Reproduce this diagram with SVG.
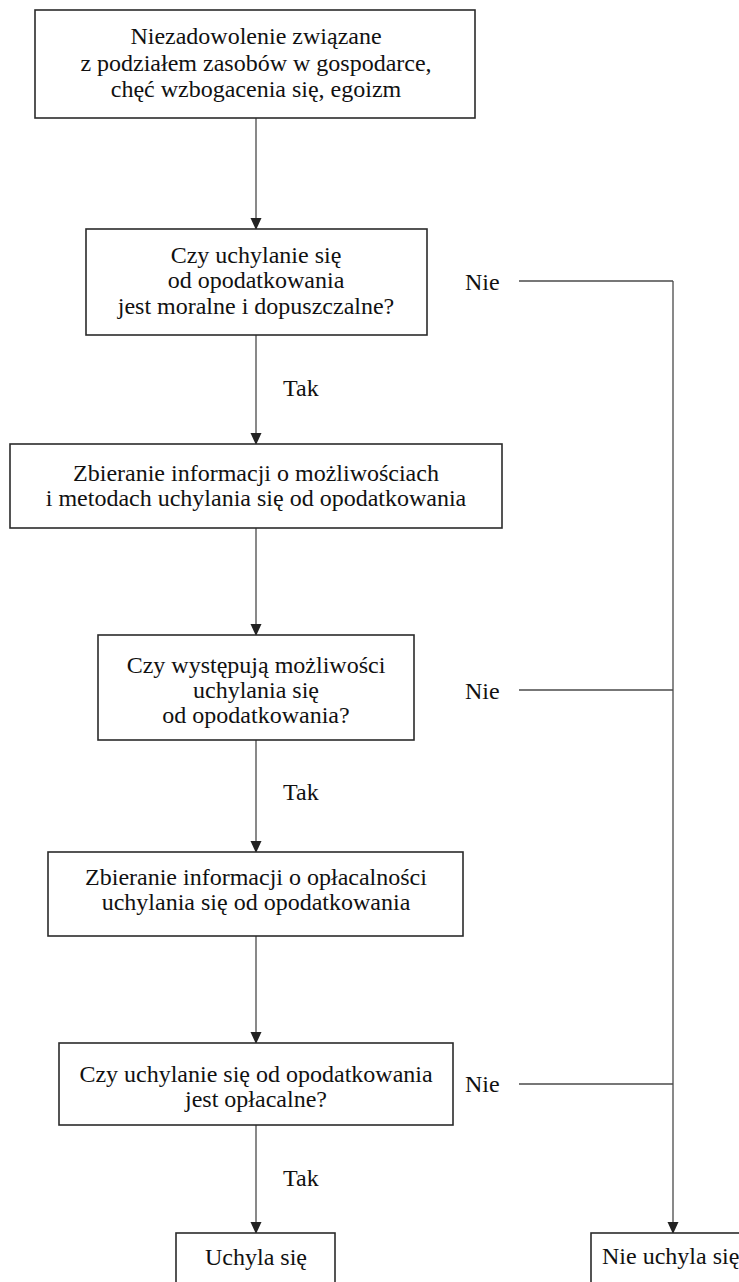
<svg xmlns="http://www.w3.org/2000/svg" width="739" height="1282" viewBox="0 0 739 1282">
  <style>
    .box { fill: #ffffff; stroke: #2b2b2b; stroke-width: 1.6; }
    .txt { font-family: "Liberation Serif", "Times New Roman", serif; font-size: 24px; fill: #111111; }
    .mid { text-anchor: middle; }
    .conn { fill: none; stroke: #4a4a4a; stroke-width: 1.3; }
  </style>
  <defs>
    <marker id="arrow" markerWidth="12" markerHeight="13" refX="12" refY="6" orient="auto" markerUnits="userSpaceOnUse" viewBox="0 0 13 12">
      <path d="M0,0 L13,6 L0,12 Z" fill="#222222"/>
    </marker>
  </defs>

  <rect width="739" height="1282" fill="#ffffff"/>

  <!-- connectors -->
  <g id="connectors">
    <line class="conn" x1="256" y1="118" x2="256" y2="229" marker-end="url(#arrow)"/>
    <line class="conn" x1="256" y1="335" x2="256" y2="444" marker-end="url(#arrow)"/>
    <line class="conn" x1="256" y1="528" x2="256" y2="635" marker-end="url(#arrow)"/>
    <line class="conn" x1="256" y1="740" x2="256" y2="852" marker-end="url(#arrow)"/>
    <line class="conn" x1="256" y1="936" x2="256" y2="1043" marker-end="url(#arrow)"/>
    <line class="conn" x1="256" y1="1125" x2="256" y2="1233" marker-end="url(#arrow)"/>
    <!-- "Nie" branches joining the right-hand trunk -->
    <line class="conn" x1="519" y1="281" x2="673" y2="281"/>
    <line class="conn" x1="519" y1="690" x2="673" y2="690"/>
    <line class="conn" x1="519" y1="1084" x2="673" y2="1084"/>
    <line class="conn" x1="673" y1="281" x2="673" y2="1233" marker-end="url(#arrow)"/>
    <text class="txt" x="465" y="290">Nie</text>
    <text class="txt" x="465" y="699">Nie</text>
    <text class="txt" x="465" y="1092">Nie</text>
    <text class="txt" x="283" y="396">Tak</text>
    <text class="txt" x="283" y="800">Tak</text>
    <text class="txt" x="283" y="1186">Tak</text>
  </g>

  <g id="start">
    <rect class="box" x="35" y="10" width="440" height="108"/>
    <text class="txt mid" x="256" y="44">Niezadowolenie związane</text>
    <text class="txt mid" x="256" y="71">z podziałem zasobów w gospodarce,</text>
    <text class="txt mid" x="256" y="97">chęć wzbogacenia się, egoizm</text>
  </g>

  <g id="q-moral">
    <rect class="box" x="86" y="229" width="341" height="106"/>
    <text class="txt mid" x="256" y="263">Czy uchylanie się</text>
    <text class="txt mid" x="256" y="288">od opodatkowania</text>
    <text class="txt mid" x="256" y="314">jest moralne i dopuszczalne?</text>
  </g>

  <g id="info-methods">
    <rect class="box" x="10" y="444" width="492" height="84"/>
    <text class="txt mid" x="256" y="481">Zbieranie informacji o możliwościach</text>
    <text class="txt mid" x="256" y="506">i metodach uchylania się od opodatkowania</text>
  </g>

  <g id="q-possible">
    <rect class="box" x="98" y="635" width="316" height="105"/>
    <text class="txt mid" x="256" y="673">Czy występują możliwości</text>
    <text class="txt mid" x="256" y="698">uchylania się</text>
    <text class="txt mid" x="256" y="723">od opodatkowania?</text>
  </g>

  <g id="info-profit">
    <rect class="box" x="48" y="852" width="415" height="84"/>
    <text class="txt mid" x="256" y="885">Zbieranie informacji o opłacalności</text>
    <text class="txt mid" x="256" y="910">uchylania się od opodatkowania</text>
  </g>

  <g id="q-profitable">
    <rect class="box" x="59" y="1043" width="394" height="82"/>
    <text class="txt mid" x="256" y="1082">Czy uchylanie się od opodatkowania</text>
    <text class="txt mid" x="256" y="1107">jest opłacalne?</text>
  </g>

  <g id="evades">
    <rect class="box" x="176" y="1233" width="159" height="60"/>
    <text class="txt mid" x="256" y="1265">Uchyla się</text>
  </g>

  <g id="not-evades">
    <rect class="box" x="591" y="1233" width="160" height="60"/>
    <text class="txt" x="602" y="1264">Nie uchyla się</text>
  </g>
</svg>
